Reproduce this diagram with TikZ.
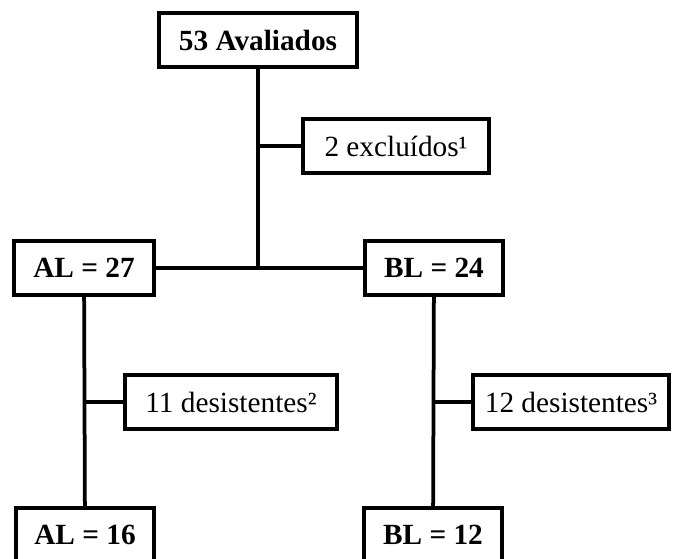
\documentclass[tikz,border=0pt]{standalone}
\usepackage{fontspec}
\setmainfont{Liberation Serif}
\usetikzlibrary{positioning}
\tikzset{
    box/.style={draw, line width=3.2pt, fill=white, inner sep=0pt,
        minimum height=1.62cm, font=\fontsize{25}{29}\selectfont},
    boldbox/.style={box, font=\fontsize{25}{29}\selectfont\bfseries},
    link/.style={line width=3.2pt}
}
\begin{document}
\begin{tikzpicture}[x=0.03cm, y=-0.03cm]
    \clip (0, 0) rectangle (673, 558);
    \fill[white] (0, 0) rectangle (673, 558);
    % nodes
    \node[boldbox, minimum width=5.94cm] (aval) at (258, 40) {53 Avaliados};
    \node[box, minimum width=5.6cm] (excl) at (396, 146) {2 excluídos¹};
    \node[boldbox, minimum width=4.2cm] (al27) at (84, 268) {AL = 27};
    \node[boldbox, minimum width=4.14cm] (bl24) at (434, 268) {BL = 24};
    \node[box, minimum width=6.36cm] (des11) at (231, 402) {11 desistentes²};
    \node[box, minimum width=5.88cm] (des12) at (571, 402) {12 desistentes³};
    \node[boldbox, minimum width=4.14cm] (al16) at (85, 535) {AL = 16};
    \node[boldbox, minimum width=4.14cm] (bl12) at (433, 535) {BL = 12};
    % connectors
    \draw[link] (al27) -- (bl24);
    \draw[link] (aval.south) -- (aval.south |- al27.east);
    \draw[link] (excl.west) -- (excl.west -| aval.south);
    \draw[link] (al27) -- (al16);
    \draw[link] (des11.west) -- (des11.west -| al27.south);
    \draw[link] (bl24) -- (bl12);
    \draw[link] (des12.west) -- (des12.west -| bl24.south);
\end{tikzpicture}
\end{document}
